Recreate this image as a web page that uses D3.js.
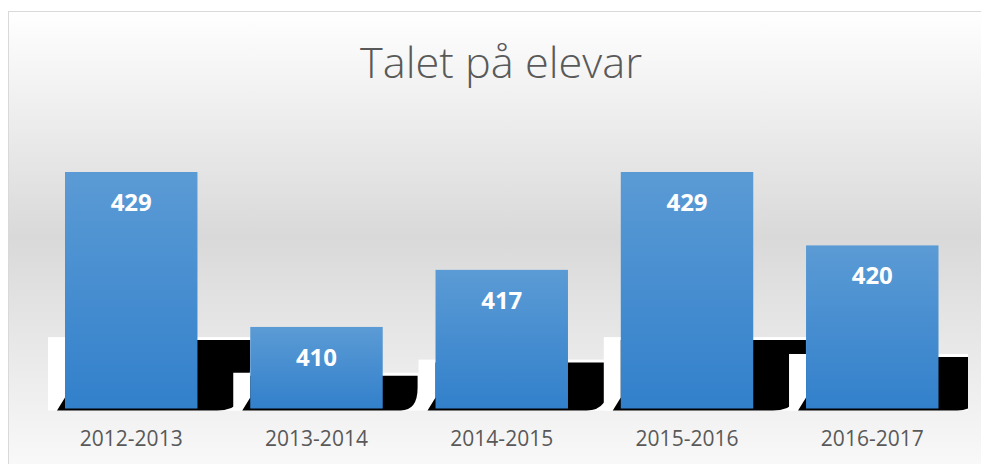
<!DOCTYPE html>
<html>
<head>
<meta charset="utf-8">
<script src="https://cdn.jsdelivr.net/npm/d3@7"></script>
<style>
  body { margin: 0; background: #fff; }
  svg { display: block; }
</style>
</head>
<body>
<svg id="chart" width="981" height="464"></svg>
<script>
const title = 'Talet på elevar';
const years = ['2012-2013', '2013-2014', '2014-2015', '2015-2016', '2016-2017'];
const pupils = [429, 410, 417, 429, 420];

const svg = d3.select('#chart');
const W = 981, H = 464;

const defs = svg.append('defs');

const bg = defs.append('linearGradient')
    .attr('id', 'bg')
    .attr('x1', 0).attr('y1', 0).attr('x2', 0).attr('y2', 1);
bg.append('stop').attr('offset', '0%').attr('stop-color', '#ffffff');
bg.append('stop').attr('offset', '48%').attr('stop-color', '#d9d9d9');
bg.append('stop').attr('offset', '100%').attr('stop-color', '#fbfbfb');

const barGrad = defs.append('linearGradient')
    .attr('id', 'barGrad')
    .attr('x1', 0).attr('y1', 0).attr('x2', 0).attr('y2', 1);
barGrad.append('stop').attr('offset', '0%').attr('stop-color', '#5b9bd5');
barGrad.append('stop').attr('offset', '100%').attr('stop-color', '#3280cb');

defs.append('clipPath').attr('id', 'plotClip')
  .append('rect')
    .attr('x', 0).attr('y', 0).attr('width', 968).attr('height', H);

// chart frame
svg.append('rect')
    .attr('x', 8.5).attr('y', 11.5)
    .attr('width', 990).attr('height', 470)
    .attr('fill', 'url(#bg)')
    .attr('stroke', '#d9d9d9');

svg.append('text')
    .attr('x', 501).attr('y', 78)
    .attr('text-anchor', 'middle')
    .attr('font-family', '"Open Sans", sans-serif')
    .attr('font-weight', 300)
    .attr('font-size', 42)
    .attr('fill', '#595959')
    .attr('textLength', 282)
    .attr('lengthAdjust', 'spacingAndGlyphs')
    .text(title);

const x = d3.scaleBand()
    .domain(years)
    .range([38.6, 964.9])
    .paddingInner(0.285)
    .paddingOuter(0.1425);

const y = d3.scaleLinear()
    .domain([400, 440])
    .range([408.5, 82.3]);

// the odd shadow blocks behind each bar
const B = 410.5;
const shadows = svg.append('g').attr('clip-path', 'url(#plotClip)');

years.forEach((yr, i) => {
    const x0 = x(yr), r = x0 + x.bandwidth();
    const h = y(400) - y(pupils[i]);
    const sh = 0.23 * h + 19;
    const top = B - sh;
    const R = r + 0.5 * sh + 16;
    const rx = 0.45 * sh, ry = 0.6 * sh;

    shadows.append('rect')
        .attr('x', x0 - 17).attr('y', top)
        .attr('width', R + 2 - (x0 - 17)).attr('height', B - top)
        .attr('fill', '#fff');

    shadows.append('path')
        .attr('d', `M${x0},${top + 3}H${R}V${B - ry}Q${R},${B} ${R - rx},${B}H${x0 - 8}L${x0},${B - 13}Z`)
        .attr('fill', '#000');
});

svg.append('g')
  .selectAll('rect')
  .data(years)
  .join('rect')
    .attr('x', d => x(d))
    .attr('y', (d, i) => y(pupils[i]))
    .attr('width', x.bandwidth())
    .attr('height', (d, i) => y(400) - y(pupils[i]))
    .attr('fill', 'url(#barGrad)');

svg.append('g')
  .selectAll('text')
  .data(years)
  .join('text')
    .attr('x', d => x(d) + x.bandwidth() / 2)
    .attr('y', (d, i) => y(pupils[i]) + 39)
    .attr('text-anchor', 'middle')
    .attr('font-family', '"Open Sans", sans-serif')
    .attr('font-weight', 'bold')
    .attr('font-size', 24)
    .attr('fill', '#fff')
    .text((d, i) => pupils[i]);

const axis = svg.append('g')
    .attr('transform', `translate(0,${y(400)})`)
    .call(d3.axisBottom(x).tickSize(0).tickPadding(0));
axis.select('.domain').remove();
axis.selectAll('text')
    .attr('dy', null)
    .attr('y', 37.5)
    .attr('font-family', '"Open Sans", sans-serif')
    .attr('font-size', 21)
    .attr('fill', '#595959');
</script>
</body>
</html>
